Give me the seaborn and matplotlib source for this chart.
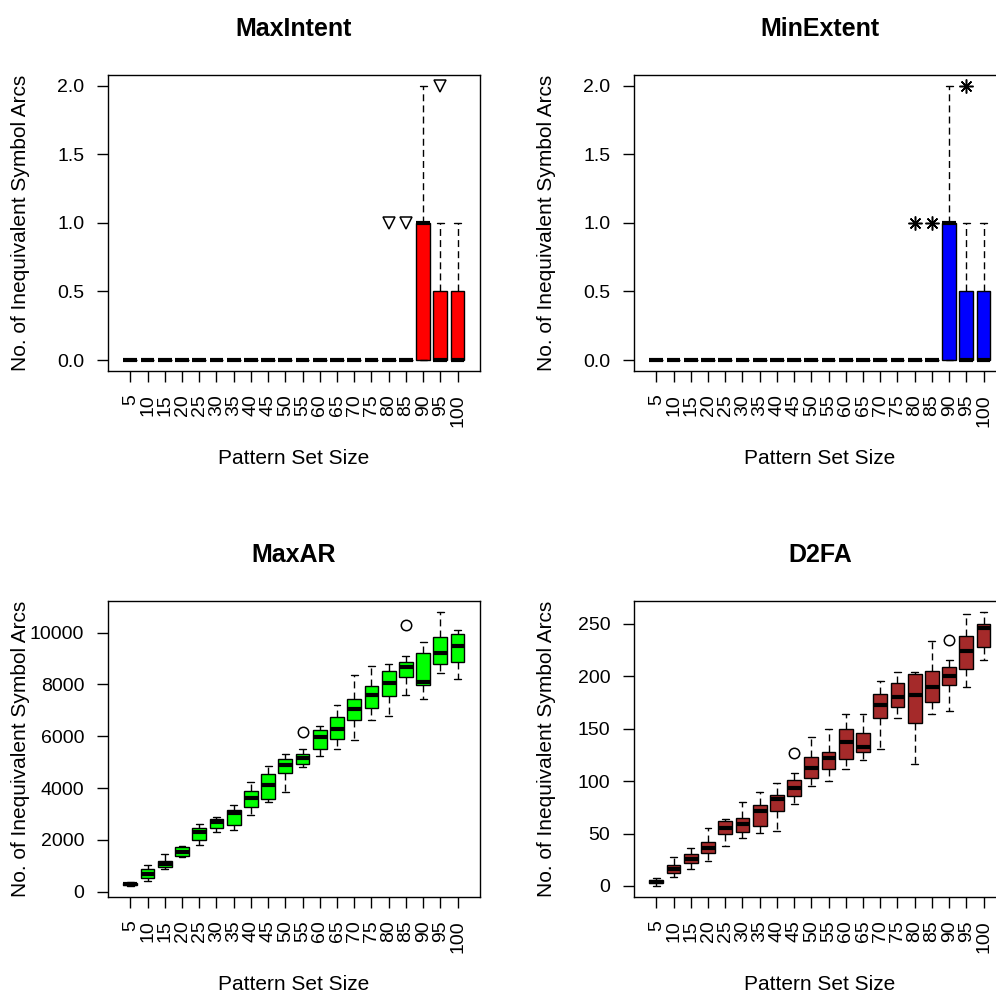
import pandas as pd
import seaborn as sns
import matplotlib.pyplot as plt

'''Boxplots of inequivalent symbol arcs per pattern set size, four methods'''

sizes = ['5', '10', '15', '20', '25', '30', '35', '40', '45', '50',
         '55', '60', '65', '70', '75', '80', '85', '90', '95', '100']

# MaxIntent and MinExtent give the same boxes
arcs_lo = [0, 0, 0, 0, 0, 0, 0, 0, 0, 0, 0, 0, 0, 0, 0, 0, 0, 0, 0, 0]
arcs_q1 = [0, 0, 0, 0, 0, 0, 0, 0, 0, 0, 0, 0, 0, 0, 0, 0, 0, 0, 0, 0]
arcs_med = [0, 0, 0, 0, 0, 0, 0, 0, 0, 0, 0, 0, 0, 0, 0, 0, 0, 1, 0, 0]
arcs_q3 = [0, 0, 0, 0, 0, 0, 0, 0, 0, 0, 0, 0, 0, 0, 0, 0, 0, 1, 0.5, 0.5]
arcs_hi = [0, 0, 0, 0, 0, 0, 0, 0, 0, 0, 0, 0, 0, 0, 0, 0, 0, 2, 1, 1]
arcs_out = [None, None, None, None, None, None, None, None, None, None,
            None, None, None, None, None, 1, 1, None, 2, None]

# MaxAR
maxar_lo = [220, 430, 865, 1330, 1806, 2297, 2387, 2968, 3458, 3850,
            4813, 5252, 5510, 5845, 6619, 6800, 7574, 7445, 8426, 8194]
maxar_q1 = [250, 516, 968, 1381, 2000, 2452, 2581, 3265, 3574, 4600,
            4942, 5510, 5897, 6619, 7097, 7548, 8284, 7974, 8774, 8865]
maxar_med = [290, 684, 1071, 1548, 2323, 2671, 3032, 3613, 4103, 4903,
             5161, 5961, 6284, 7058, 7574, 8065, 8684, 8090, 9226, 9484]
maxar_q3 = [340, 865, 1200, 1716, 2477, 2800, 3161, 3871, 4555, 5120,
            5329, 6258, 6748, 7419, 7935, 8516, 8865, 9226, 9845, 9935]
maxar_hi = [380, 1032, 1445, 1781, 2619, 2877, 3355, 4219, 4865, 5329,
            5510, 6387, 7187, 8348, 8710, 8774, 9097, 9639, 10813, 10103]
maxar_out = [None, None, None, None, None, None, None, None, None, None,
             6168, None, None, None, None, None, 10284, None, None, None]

# D2FA
d2fa_lo = [0, 8.6, 16.5, 24, 38, 46, 51, 52.5, 78, 95,
           100, 112, 120, 130.5, 160, 116, 164.5, 167, 190, 216]
d2fa_q1 = [3, 12, 22.3, 31.2, 49.3, 51.5, 57.3, 71.6, 86, 103.4,
           111.3, 121, 128, 160, 171.2, 155.2, 175.6, 191.5, 206.7, 228.4]
d2fa_med = [4, 16, 26, 36.6, 55.7, 58.8, 72, 83.3, 93.8, 112.9,
            122.5, 137.4, 133, 172.4, 180.7, 182.3, 190.2, 200, 224.2, 246.5]
d2fa_q3 = [6, 19.7, 30.2, 41.5, 62, 65.2, 77, 87.2, 101, 123.4,
           128.2, 150.1, 146.3, 183.5, 194, 202.3, 205.2, 208.5, 238.5, 250.3]
d2fa_hi = [8, 28, 36.3, 55.5, 64.2, 80.2, 90, 98, 108, 142.5,
           150, 163.8, 163.8, 195.6, 204.2, 204.2, 233.8, 216, 259.2, 261.8]
d2fa_out = [None, None, None, None, None, None, None, None, 127, None,
            None, None, None, None, None, None, None, 235, None, None]


def box_frame(lo, q1, med, q3, hi, out):
    # nine values per size whose quartiles / whiskers reproduce the box
    rows = []
    for i, s in enumerate(sizes):
        pts = [lo[i], q1[i], q1[i], med[i], med[i], med[i], q3[i], q3[i], hi[i]]
        if out[i] is not None:
            pts[7] = hi[i]
            pts[8] = out[i]
        for p in pts:
            rows.append({'size': s, 'value': p})
    return pd.DataFrame(rows)


sns.set_style('ticks')
plt.rcParams['font.family'] = ['Liberation Sans', 'DejaVu Sans']
plt.rcParams['text.color'] = 'black'
plt.rcParams['axes.labelcolor'] = 'black'

fig = plt.figure(figsize=(9.96, 9.93), dpi=100)

panels = [
    ('MaxIntent', box_frame(arcs_lo, arcs_q1, arcs_med, arcs_q3, arcs_hi, arcs_out),
     'red', 'v', 8, [0, 0.5, 1.0, 1.5, 2.0], '{:.1f}', [0.1084, 0.6264]),
    ('MinExtent', box_frame(arcs_lo, arcs_q1, arcs_med, arcs_q3, arcs_hi, arcs_out),
     'blue', (8, 2, 0), 10, [0, 0.5, 1.0, 1.5, 2.0], '{:.1f}', [0.6365, 0.6264]),
    ('MaxAR', box_frame(maxar_lo, maxar_q1, maxar_med, maxar_q3, maxar_hi, maxar_out),
     '#00ff00', 'o', 7.5, [0, 2000, 4000, 6000, 8000, 10000], '{:.0f}', [0.1084, 0.0967]),
    ('D2FA', box_frame(d2fa_lo, d2fa_q1, d2fa_med, d2fa_q3, d2fa_hi, d2fa_out),
     '#a52a2a', 'o', 7.5, [0, 50, 100, 150, 200, 250], '{:.0f}', [0.6365, 0.0967]),
]

for title, df, col, mark, msize, yticks, fmt, pos in panels:
    ax = fig.add_axes([pos[0], pos[1], 0.3735, 0.2985])
    sns.boxplot(data=df, x='size', y='value', order=sizes, color=col,
                saturation=1, width=0.8, linecolor='black', linewidth=1,
                whis=1.5, fliersize=msize, ax=ax,
                medianprops={'linewidth': 3, 'color': 'black'},
                whiskerprops={'linestyle': (0, (5, 3))},
                flierprops={'marker': mark, 'markerfacecolor': 'none',
                            'markeredgecolor': 'black', 'markeredgewidth': 1.1})

    # R-style limits: 4% padding around data
    lo_v, hi_v = df['value'].min(), df['value'].max()
    span = hi_v - lo_v
    ax.set_ylim(lo_v - 0.04 * span, hi_v + 0.04 * span)
    ax.set_xlim(-1.3, 20.3)

    ax.set_yticks(yticks)
    ax.set_yticklabels([fmt.format(t) for t in yticks])
    ax.tick_params(axis='both', direction='out', length=8, width=1,
                   pad=9, labelsize=14, colors='black')
    ax.tick_params(axis='x', labelrotation=90)
    for sp in ax.spines.values():
        sp.set_visible(True)
        sp.set_color('black')
        sp.set_linewidth(1)

    ax.set_title(title, fontsize=18, fontweight='bold', pad=28)
    ax.set_xlabel('Pattern Set Size', fontsize=15)
    ax.set_ylabel('No. of Inequivalent Symbol Arcs', fontsize=15)
    ax.xaxis.label.set_va('center')
    ax.xaxis.set_label_coords(0.5, -0.296)
    ax.yaxis.label.set_va('center')
    ax.yaxis.set_label_coords(-0.234, 0.5)

plt.savefig('out.png', dpi=100)
